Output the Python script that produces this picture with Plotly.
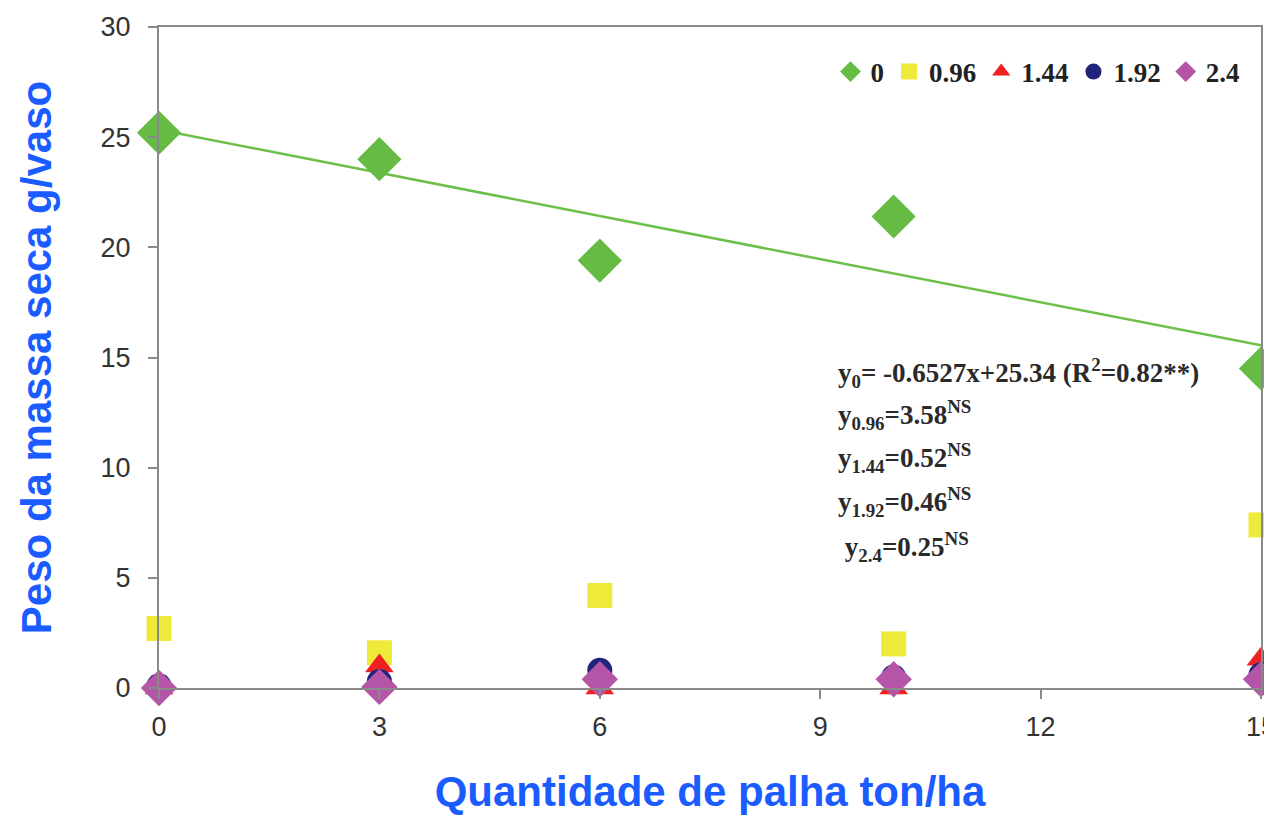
import plotly.graph_objects as go

x_vals = [0, 3, 6, 10, 15]
y_0 = [25.2, 24.0, 19.4, 21.4, 14.5]
y_096 = [2.7, 1.6, 4.2, 2.0, 7.4]
y_144 = [0.0, 1.0, 0.0, 0.0, 1.3]
y_192 = [0.1, 0.3, 0.8, 0.5, 0.6]
y_24 = [0.0, 0.05, 0.4, 0.4, 0.4]
fit_slope = -0.6527
fit_intercept = 25.34
fit_x = [0, 15]
series_names = ["0", "0.96", "1.44", "1.92", "2.4"]
x_ticks = [0, 3, 6, 9, 12, 15]
y_ticks = [0, 5, 10, 15, 20, 25, 30]
eq_lines = [
    "y<sub>0</sub>= -0.6527x+25.34 (R<sup>2</sup>=0.82**)",
    "y<sub>0.96</sub>=3.58<sup>NS</sup>",
    "y<sub>1.44</sub>=0.52<sup>NS</sup>",
    "y<sub>1.92</sub>=0.46<sup>NS</sup>",
    " y<sub>2.4</sub>=0.25<sup>NS</sup>",
]

# the page body adds an 8px offset, so positions are shifted by 8px
OFF = 8
plot_top, plot_bottom, plot_left, plot_right = 27 - OFF, 688 - OFF, 159 - OFF, 1261 - OFF
W, H = 1272, 815 - OFF

fig = go.Figure()
fig.add_trace(go.Scatter(x=fit_x, y=[fit_intercept + fit_slope * v for v in fit_x],
                         mode="lines", line=dict(color="#6cc04a", width=2.5),
                         showlegend=False, hoverinfo="skip", cliponaxis=False))
styles = [
    (y_0, "diamond", "#66bb44", 34),
    (y_096, "square", "#eeea3a", 25),
    (y_144, "triangle-up", "#ee2222", 25),
    (y_192, "circle", "#22237a", 25),
    (y_24, "diamond", "#b455a8", 28),
]
for name, (ys, sym, col, sz) in zip(series_names, styles):
    fig.add_trace(go.Scatter(x=x_vals, y=ys, mode="markers", name=name,
                             marker=dict(symbol=sym, color=col, size=sz, line=dict(width=0)),
                             cliponaxis=False))

ann_px_y = [373, 415, 458, 502, 547]
for txt, yp in zip(eq_lines, ann_px_y):
    fig.add_annotation(x=(836 - OFF - plot_left) / (plot_right - plot_left),
                       y=(plot_bottom - (yp - OFF)) / (plot_bottom - plot_top),
                       xref="paper", yref="paper", text="<b>" + txt + "</b>", showarrow=False,
                       xanchor="left", yanchor="middle",
                       font=dict(family="Liberation Serif", size=27, color="#2a2a2a"))

axis_common = dict(showline=True, linecolor="#8a8a8a", linewidth=2, mirror=True,
                   ticks="outside", tickcolor="#8a8a8a", tickwidth=2, ticklen=9,
                   showgrid=False, zeroline=False, automargin=False,
                   tickfont=dict(family="Liberation Sans", size=27, color="#333333"))

fig.update_layout(
    width=W, height=H,
    paper_bgcolor="white", plot_bgcolor="white",
    margin=dict(l=plot_left, r=W - plot_right, t=plot_top, b=H - plot_bottom, autoexpand=False),
    xaxis=dict(range=[0, 15], tickvals=x_ticks, ticklabelstandoff=5, **axis_common,
               title=dict(text="<b>Quantidade de palha ton/ha</b>", standoff=38,
                          font=dict(family="Liberation Sans", size=42, color="#1a5cff"))),
    yaxis=dict(range=[0, 30], tickvals=y_ticks, ticklabelstandoff=12, **axis_common,
               title=dict(text="<b>Peso da massa seca g/vaso</b>", standoff=36,
                          font=dict(family="Liberation Sans", size=42, color="#1a5cff"))),
    legend=dict(orientation="h", x=0.985, y=(plot_bottom - (72 - OFF)) / (plot_bottom - plot_top),
                xanchor="right", yanchor="middle",
                font=dict(family="Liberation Serif", size=27, color="#222222", weight="bold"),
                itemwidth=30, bgcolor="rgba(0,0,0,0)", traceorder="normal"),
)
fig.write_html("out.html")
